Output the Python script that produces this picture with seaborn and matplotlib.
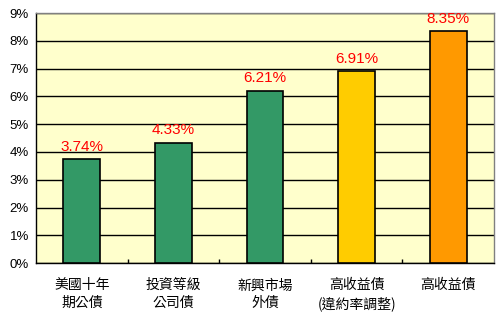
import matplotlib
matplotlib.use("Agg")
import matplotlib.pyplot as plt
import seaborn as sns
import pandas as pd
from matplotlib.ticker import FuncFormatter, MultipleLocator

categories = ["美國十年\n期公債", "投資等級\n公司債", "新興市場\n外債", "高收益債\n(違約率調整)", "高收益債"]
values = [3.74, 4.33, 6.21, 6.91, 8.35]
labels = ["3.74%", "4.33%", "6.21%", "6.91%", "8.35%"]
colors = ["#339966", "#339966", "#339966", "#FFCC00", "#FF9900"]

sns.set_theme(style="white")
plt.rcParams['font.family'] = ['Liberation Sans', 'Noto Sans CJK TC', 'DejaVu Sans']
plt.rcParams['xtick.bottom'] = True

df = pd.DataFrame({"cat": categories, "val": values})

fig = plt.figure(figsize=(5, 3.2), dpi=100)
ax = fig.add_axes([0.072, 0.178, 0.916, 0.781])
ax.set_facecolor("#FFFFCC")
sns.barplot(data=df, x="cat", y="val", hue="cat", palette=colors, legend=False,
            saturation=1, width=0.40, edgecolor="black", linewidth=1.2, ax=ax, zorder=3)

ax.set_ylim(0, 9)
ax.set_xlim(-0.5, 4.5)
ax.yaxis.set_major_locator(MultipleLocator(1))
ax.yaxis.set_major_formatter(FuncFormatter(lambda v, p: f"{int(round(v))}%"))
ax.grid(axis="y", color="black", linewidth=1.0, zorder=1)
ax.set_axisbelow(True)
ax.set_xlabel("")
ax.set_ylabel("")

for s in ["top", "right"]:
    ax.spines[s].set_color("#808080")
    ax.spines[s].set_linewidth(1.0)
for s in ["left", "bottom"]:
    ax.spines[s].set_color("black")
    ax.spines[s].set_linewidth(1.0)

ax.tick_params(axis="y", labelsize=9.5, length=0, pad=5, colors="black")

# category labels on minor ticks, boundary tick marks on major ticks
n = len(categories)
ax.set_xticks([i + 0.5 for i in range(n - 1)], [""] * (n - 1))
ax.set_xticks(range(n), categories, minor=True)
ax.tick_params(axis="x", which="major", direction="in", length=3, width=1,
               color="black", bottom=True)
ax.tick_params(axis="x", which="minor", labelsize=10, length=0, pad=11, colors="black")
for t in ax.get_xticklabels(minor=True):
    t.set_family(['Noto Sans CJK TC', 'DejaVu Sans'])
    t.set_linespacing(1.35)

for i, (v, lab) in enumerate(zip(values, labels)):
    ax.annotate(lab, (i, v), xytext=(0, 4), textcoords="offset points",
                ha="center", va="bottom", color="red", fontsize=11)

fig.savefig("out.png", dpi=100)
